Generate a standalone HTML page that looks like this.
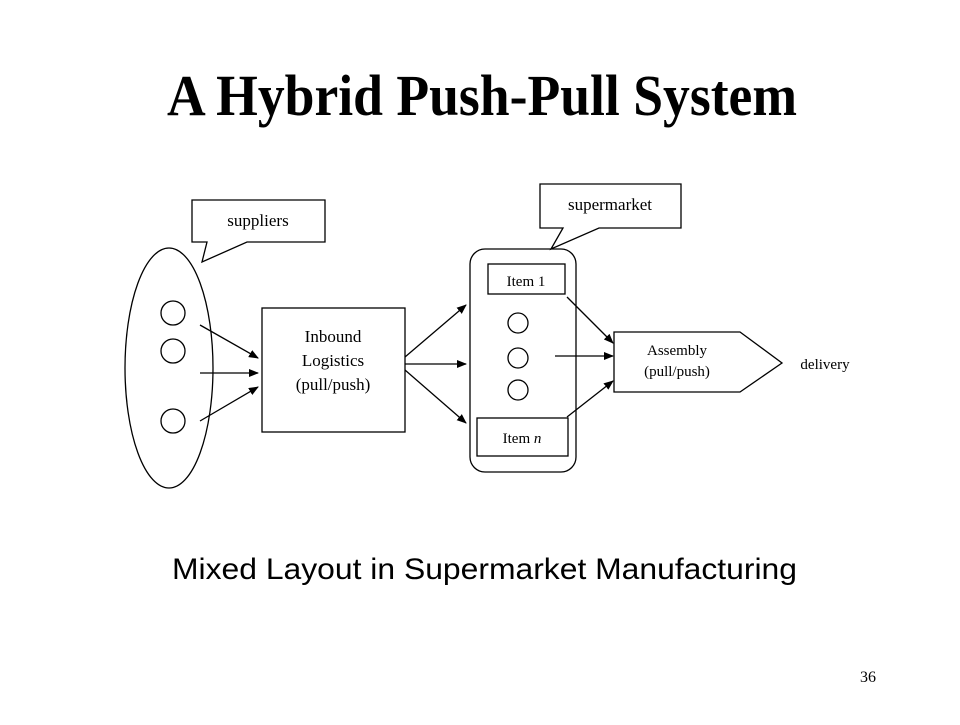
<!DOCTYPE html>
<html><head><style>html,body{margin:0;padding:0;background:#fff;}</style></head>
<body>
<svg width="960" height="720" viewBox="0 0 960 720" xmlns="http://www.w3.org/2000/svg">
<defs>
<marker id="a" markerWidth="10" markerHeight="8" refX="9" refY="4" orient="auto" markerUnits="userSpaceOnUse">
<path d="M0,0 L10,4 L0,8 z" fill="#000"/></marker>
</defs>
<rect width="960" height="720" fill="#fff"/>
<text x="167" y="115" font-family="Liberation Serif, serif" font-weight="bold" font-size="58" textLength="630" lengthAdjust="spacingAndGlyphs">A Hybrid Push-Pull System</text>

<g fill="none" stroke="#000" stroke-width="1.3">
<path d="M192,200 H325 V242 H247 L202,262 L207,242 H192 Z" fill="#fff"/>
<ellipse cx="169" cy="368" rx="44" ry="120"/>
<circle cx="173" cy="313" r="12"/>
<circle cx="173" cy="351" r="12"/>
<circle cx="173" cy="421" r="12"/>
<line x1="200" y1="325" x2="258" y2="358" marker-end="url(#a)"/>
<line x1="200" y1="373" x2="258" y2="373" marker-end="url(#a)"/>
<line x1="200" y1="421" x2="258" y2="387" marker-end="url(#a)"/>
<rect x="262" y="308" width="143" height="124"/>
<line x1="405" y1="357" x2="466" y2="305" marker-end="url(#a)"/>
<line x1="405" y1="364" x2="466" y2="364" marker-end="url(#a)"/>
<line x1="405" y1="370" x2="466" y2="423" marker-end="url(#a)"/>
<rect x="470" y="249" width="106" height="223" rx="15"/>
<path d="M540,184 H681 V228 H599 L551,249 L563,228 H540 Z" fill="#fff"/>
<rect x="488" y="264" width="77" height="30"/>
<rect x="477" y="418" width="91" height="38"/>
<circle cx="518" cy="323" r="10"/>
<circle cx="518" cy="358" r="10"/>
<circle cx="518" cy="390" r="10"/>
<line x1="567" y1="297" x2="613" y2="343" marker-end="url(#a)"/>
<line x1="555" y1="356" x2="613" y2="356" marker-end="url(#a)"/>
<line x1="567" y1="417" x2="613" y2="381" marker-end="url(#a)"/>
<path d="M614,332 H740 L782,363 L740,392 H614 Z"/>
</g>
<g font-family="Liberation Serif, serif" font-size="17" fill="#000" text-anchor="middle">
<text x="258" y="226">suppliers</text>
<text x="610" y="210">supermarket</text>
<text x="333" y="342">Inbound</text>
<text x="333" y="366">Logistics</text>
<text x="333" y="390">(pull/push)</text>
<text x="526" y="286" font-size="15">Item 1</text>
<text x="522" y="443" font-size="15">Item <tspan font-style="italic">n</tspan></text>
<text x="677" y="355" font-size="15">Assembly</text>
<text x="677" y="376" font-size="15">(pull/push)</text>
<text x="825" y="369" font-size="15">delivery</text>
</g>
<text x="172" y="579" font-family="Liberation Sans, sans-serif" font-size="30" textLength="625" lengthAdjust="spacingAndGlyphs">Mixed Layout in Supermarket Manufacturing</text>
<text x="868" y="682" font-family="Liberation Serif, serif" font-size="16" text-anchor="middle">36</text>
</svg>
</body></html>
